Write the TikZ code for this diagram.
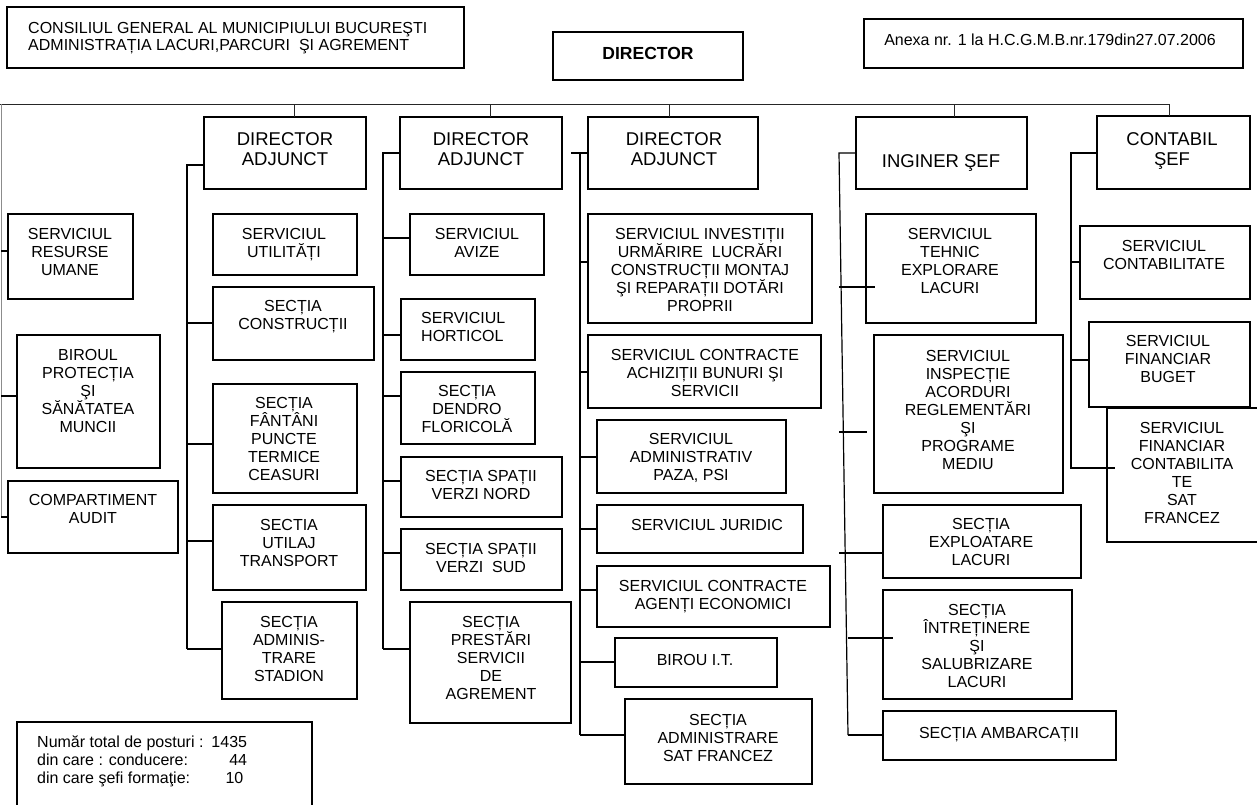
\documentclass[tikz,border=0pt]{standalone}
\usepackage{fontspec}
\setmainfont{Liberation Sans}
\tikzset{
  box/.style={draw, line width=1.2pt, inner sep=0pt, outer sep=0pt},
  txt/.style={inner sep=0pt, align=center, font=\fontsize{16}{18}\selectfont,
    execute at begin node=\strut, execute at end node=\strut},
  head/.style={txt, font=\fontsize{18.5}{20.5}\selectfont},
  ln/.style={line width=1.2pt},
  topln/.style={line width=1pt, black!85},
}
\newcommand\bx[5]{\node[box, minimum width={(#4)-(#2)}, minimum height={(#5)-(#3)}] (#1) at ({((#2)+(#4))/2},{((#3)+(#5))/2}) {};}
\newcommand\conn[3]{\draw[ln] (#1 |- 0,#3) -- (#2.west |- 0,#3);}
\begin{document}
\lineskiplimit=-50pt
\begin{tikzpicture}[x=1pt,y=-1pt]
\useasboundingbox (0,0) rectangle (1257,804);

% header boxes
\bx{hdr}{7}{7}{464}{68}
\node[txt, align=left, anchor=west, font=\fontsize{16}{17}\selectfont] (hdrt) at (28,39)
  {CONSILIUL GENERAL AL MUNICIPIULUI BUCUREŞTI\\ADMINISTRAȚIA LACURI,PARCURI~ ŞI AGREMENT};
\bx{dir}{553}{32}{743}{80}
\node[inner sep=0pt, font=\bfseries\fontsize{17.5}{20}\selectfont, execute at begin node=\strut] (dirt) at (648,55.3) {DIRECTOR};
\bx{anx}{864}{19}{1243}{68}
\node[txt] (anxt) at (1050,42.1) {Anexa nr. 1 la H.C.G.M.B.nr.179din27.07.2006};

% top line and drops
\coordinate (H0) at (0,104);
\coordinate (H1) at (1169,104);
\draw[topln] (H0) -- (H1);

% left column
\bx{l1}{8}{214}{133}{299}
\node[txt] (l1t) at (70,254.3) {SERVICIUL\\RESURSE\\UMANE};
\bx{l2}{17}{335}{160}{468}
\node[txt] (l2t) at (88,393.8) {BIROUL\\PROTECȚIA\\ŞI\\SĂNĂTATEA\\MUNCII};
\bx{l3}{8}{481}{178}{553}
\node[txt] (l3t) at (93,511.6) {COMPARTIMENT\\AUDIT};
\coordinate (T0a) at (1,104);
\coordinate (T0b) at (1,517);
\draw[line width=1pt, black!45] (T0a) -- (T0b);
\conn{T0a}{l1}{251}
\conn{T0a}{l2}{396}
\conn{T0a}{l3}{517}

% column 1
\bx{da1}{204}{117}{366}{189}
\node[head] (da1t) at (285,152.1) {DIRECTOR\\ADJUNCT};
\draw[topln] (H0 -| 294,0) -- (da1.north -| 294,0);
\bx{c1a}{213}{214}{357}{275}
\node[txt] (c1at) at (284,245.4) {SERVICIUL\\UTILITĂȚI};
\bx{c1b}{213}{287}{374}{360}
\node[txt] (c1bt) at (293,318) {SECȚIA\\CONSTRUCȚII};
\bx{c1c}{213}{384}{357}{493}
\node[txt] (c1ct) at (284,442.1) {SECȚIA\\FÂNTÂNI\\PUNCTE\\TERMICE\\CEASURI};
\bx{c1d}{213}{505}{366}{590}
\node[txt] (c1dt) at (289,545.3) {SECTIA\\UTILAJ\\TRANSPORT};
\bx{c1e}{222}{602}{357}{699}
\node[txt] (c1et) at (289,651.7) {SECȚIA\\ADMINIS-\\TRARE\\STADION};
\coordinate (T1a) at (187,165);
\coordinate (T1b) at (187,649);
\draw[ln] (da1.west |- T1a) -- (T1a) -- (T1b);
\conn{T1a}{c1b}{323}
\conn{T1a}{c1c}{444}
\conn{T1a}{c1d}{541}
\conn{T1a}{c1e}{649}

% column 2
\bx{da2}{400}{117}{562}{189}
\node[head] (da2t) at (481,152.1) {DIRECTOR\\ADJUNCT};
\draw[topln] (H0 -| 490,0) -- (da2.north -| 490,0);
\bx{c2a}{410}{214}{544}{275}
\node[txt] (c2at) at (477,245.4) {SERVICIUL\\AVIZE};
\bx{c2b}{401}{299}{535}{360}
\node[txt, align=left, anchor=west] (c2bt) at (421,329.6) {SERVICIUL\\HORTICOL};
\bx{c2c}{401}{372}{535}{444}
\node[txt] (c2ct) at (467,412.1) {SECȚIA\\DENDRO\\FLORICOLĂ};
\bx{c2d}{401}{457}{562}{517}
\node[txt] (c2dt) at (481,487.4) {SECȚIA SPAȚII\\VERZI NORD};
\bx{c2e}{401}{529}{562}{590}
\node[txt] (c2et) at (481,561) {SECȚIA SPAȚII\\VERZI~ SUD};
\bx{c2f}{410}{602}{571}{723}
\node[txt] (c2ft) at (491,660.3) {SECȚIA\\PRESTĂRI\\SERVICII\\DE\\AGREMENT};
\coordinate (T2a) at (383,153);
\coordinate (T2b) at (383,649);
\draw[ln] (da2.west |- T2a) -- (T2a) -- (T2b);
\conn{T2a}{c2a}{238}
\conn{T2a}{c2b}{335}
\conn{T2a}{c2c}{396}
\conn{T2a}{c2d}{481}
\conn{T2a}{c2e}{553}
\conn{T2a}{c2f}{649}

% column 3
\bx{da3}{588}{117}{758}{189}
\node[head] (da3t) at (674,152.1) {DIRECTOR\\ADJUNCT};
\draw[topln] (H0 -| 669,0) -- (da3.north -| 669,0);
\bx{c3a}{588}{214}{812}{323}
\node[txt] (c3at) at (700,272.9) {SERVICIUL INVESTIȚII\\URMĂRIRE~ LUCRĂRI\\CONSTRUCȚII MONTAJ\\ŞI REPARAȚII DOTĂRI\\PROPRII};
\bx{c3b}{588}{335}{821}{408}
\node[txt] (c3bt) at (705,376.1) {SERVICIUL CONTRACTE\\ACHIZIȚII BUNURI ŞI\\SERVICII};
\bx{c3c}{597}{420}{786}{493}
\node[txt] (c3ct) at (691,459.8) {SERVICIUL\\ADMINISTRATIV\\PAZA, PSI};
\bx{c3d}{597}{505}{803}{553}
\node[txt] (c3dt) at (707,526.4) {SERVICIUL JURIDIC};
\bx{c3e}{597}{566}{830}{627}
\node[txt] (c3et) at (713,597.4) {SERVICIUL CONTRACTE\\AGENȚI ECONOMICI};
\bx{c3f}{615}{638}{777}{687}
\node[txt] (c3ft) at (695,661.4) {BIROU I.T.};
\bx{c3g}{625}{699}{812}{784}
\node[txt] (c3gt) at (718,740.1) {SECȚIA\\ADMINISTRARE\\SAT FRANCEZ};
\coordinate (S3) at (571,153);
\coordinate (T3a) at (580,153);
\coordinate (T3b) at (580,735);
\draw[ln] (S3) -- (da3.west |- S3);
\draw[ln] (T3a) -- (T3b);
\conn{T3a}{c3a}{262}
\conn{T3a}{c3b}{372}
\conn{T3a}{c3c}{457}
\conn{T3a}{c3d}{529}
\conn{T3a}{c3e}{590}
\conn{T3a}{c3f}{662}
\conn{T3a}{c3g}{735}

% column 4
\bx{da4}{856}{117}{1027}{189}
\node[head] (da4t) at (941,163.2) {INGINER ŞEF};
\draw[topln] (H0 -| 954,0) -- (da4.north -| 954,0);
\bx{c4a}{866}{214}{1036}{323}
\node[txt] (c4at) at (950,263.8) {SERVICIUL\\TEHNIC\\EXPLORARE\\LACURI};
\bx{c4b}{874}{335}{1063}{493}
\node[txt] (c4bt) at (968,413) {SERVICIUL\\INSPECȚIE\\ACORDURI\\REGLEMENTĂRI\\ŞI\\PROGRAME\\MEDIU};
\bx{c4c}{883}{505}{1081}{578}
\node[txt] (c4ct) at (981,545.1) {SECȚIA\\EXPLOATARE\\LACURI};
\bx{c4d}{883}{590}{1072}{699}
\node[txt] (c4dt) at (977,648.8) {SECȚIA\\ÎNTREȚINERE\\ŞI\\SALUBRIZARE\\LACURI};
\bx{c4e}{883}{711}{1116}{760}
\node[txt] (c4et) at (999,734.4) {SECȚIA AMBARCAȚII};
\coordinate (T4a) at (839,153);
\coordinate (T4b) at (848,735);
\draw[ln] (da4.west |- T4a) -- (T4a) -- (T4b);
\coordinate (E41) at (875,287);
\coordinate (E42) at (867,432);
\coordinate (E44) at (893,638);
\draw[ln] (T4a |- E41) -- (E41);
\draw[ln] (T4a |- E42) -- (E42);
\conn{T4a}{c4c}{553}
\draw[ln] (T4b |- E44) -- (E44);
\conn{T4b}{c4e}{735}

% column 5
\bx{da5}{1097}{116}{1250}{189}
\node[head] (da5t) at (1172,152.2) {CONTABIL\\ŞEF};
\draw[topln] (H1) -- (da5.north -| H1);
\bx{c5a}{1080}{226}{1250}{299}
\node[txt] (c5at) at (1164,257.6) {SERVICIUL\\CONTABILITATE};
\bx{c5b}{1089}{322}{1250}{407}
\node[txt] (c5bt) at (1168,362.1) {SERVICIUL\\FINANCIAR\\BUGET};
\bx{c5c}{1107}{408}{1266}{542}
\node[txt] (c5ct) at (1182,475.6) {SERVICIUL\\FINANCIAR\\CONTABILITA\\TE\\SAT\\FRANCEZ};
\coordinate (T5a) at (1071,153);
\coordinate (T5b) at (1071,468);
\coordinate (E53) at (1115,468);
\draw[ln] (da5.west |- T5a) -- (T5a) -- (T5b) -- (E53);
\conn{T5a}{c5a}{262}
\conn{T5a}{c5b}{360}

% footer
\bx{ftr}{17}{722}{312}{814}
\node[inner sep=0pt, anchor=west, font=\fontsize{16}{18}\selectfont] (ftrt) at (37,762.1)
  {\lineskiplimit=0pt\relax
   \begin{tabular}{@{}l@{\hspace{8pt}}r@{}}
   Număr total de posturi : & 1435\\
   din care : conducere: & 44\hspace{3.7pt}\\
   din care şefi formaţie: & 10\hspace{3.7pt}
   \end{tabular}};
\end{tikzpicture}
\end{document}
